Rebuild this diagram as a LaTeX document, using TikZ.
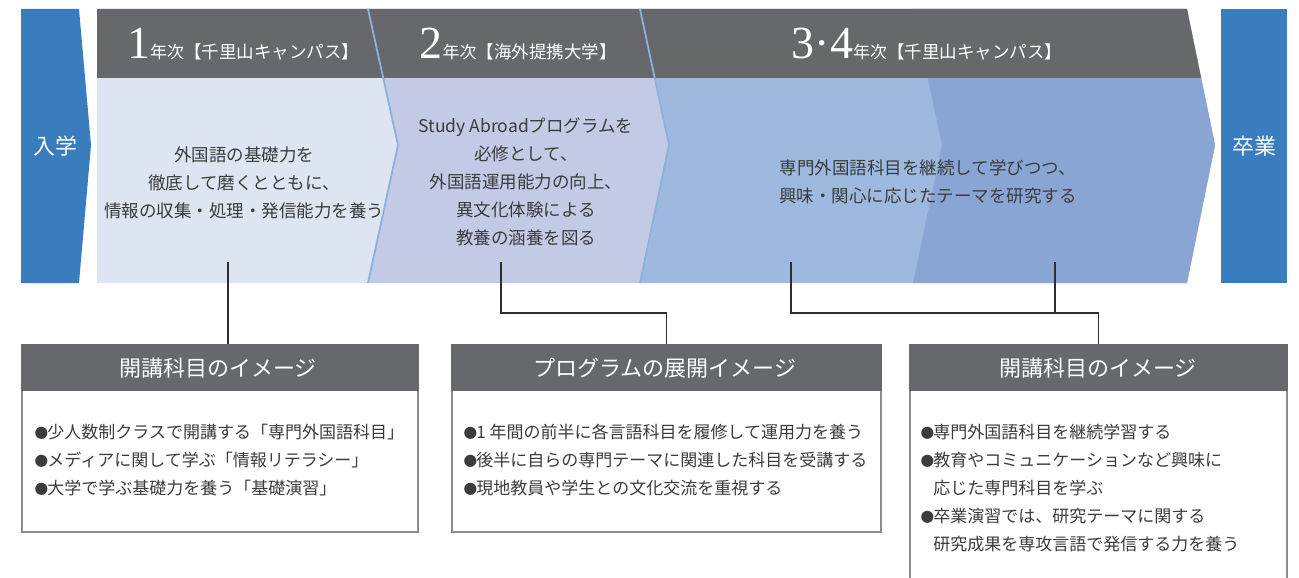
\documentclass[tikz,border=0pt]{standalone}
\usepackage{fontspec}
\usepackage{graphicx}
\setmainfont{Noto Sans CJK JP}
\newfontfamily\numfont{Liberation Serif}
\definecolor{endblue}{HTML}{3A7DBF}
\definecolor{hdrgray}{HTML}{67686C}
\definecolor{sone}{HTML}{DCE5F1}
\definecolor{stwo}{HTML}{C2CAE6}
\definecolor{sthree}{HTML}{9DB9E0}
\definecolor{sfour}{HTML}{88A5D4}
\definecolor{bline}{HTML}{8DB0DC}
\definecolor{txtgray}{HTML}{3C3C3C}
\definecolor{framegray}{HTML}{8C8C8C}
\definecolor{linegray}{HTML}{2E2E2E}
\newcommand{\bul}{\makebox[0.72em][c]{\scalebox{0.8}{●}}}
\newcommand{\hdrnum}[1]{{\numfont\fontsize{46}{46}\selectfont #1}}
\newcommand{\nenji}{{\fontsize{17}{17}\selectfont 年次}}
\tikzset{
  stagetxt/.style={align=center, text=txtgray, inner sep=0pt, font=\fontsize{17.5}{28}\selectfont},
  hdrtxt/.style={text=white, inner sep=0pt, anchor=base, font=\fontsize{17.5}{17.5}\selectfont},
  endtxt/.style={text=white, inner sep=0pt, font=\fontsize{22}{22}\selectfont},
  boxframe/.style={draw=framegray, line width=1.5pt, fill=white, rectangle, inner sep=0pt, anchor=north west},
  boxtitle/.style={text=white, inner sep=0pt, font=\fontsize{22}{22}\selectfont},
  boxtxt/.style={align=left, text=txtgray, inner sep=0pt, anchor=west, font=\fontsize{17}{28}\selectfont},
  conn/.style={draw=linegray, line width=1.4pt},
  sepline/.style={draw=bline, line width=1.8pt},
}
\begin{document}
\begin{tikzpicture}[x=1pt,y=-1pt]
\useasboundingbox (0,0) rectangle (1299,578);
% entry / exit
\fill[endblue] (21,9) -- (79,9) -- (91,145) -- (79,283) -- (21,283) -- cycle;
\fill[endblue] (1221,9) rectangle (1287,283);
\node[endtxt] (entry) at (55,146) {入学};
\node[endtxt] (grad) at (1254,146) {卒業};
% stages
\fill[sone] (97,9) -- (368,9) -- (398,145) -- (368,283) -- (97,283) -- cycle;
\fill[stwo] (368,9) -- (640,9) -- (669,145) -- (640,283) -- (368,283) -- (398,145) -- cycle;
\fill[sthree] (640,9) -- (1187,9) -- (1215,145) -- (1187,283) -- (640,283) -- (669,145) -- cycle;
\fill[sfour] (913,9) -- (1187,9) -- (1215,145) -- (1187,283) -- (913,283) -- (942,145) -- cycle;
% header band
\fill[hdrgray] (97,9) -- (1187,9) -- (1201,78) -- (97,78) -- cycle;
\draw[sepline] (368,9) -- (398,145) -- (368,283);
\draw[sepline] (640,9) -- (669,145) -- (640,283);
% header texts
\node[hdrtxt] (h1) at (243,59) {\hdrnum{1}\nenji 【千里山キャンパス】};
\node[hdrtxt] (h2) at (518,59) {\hdrnum{2}\nenji 【海外提携大学】};
\node[hdrtxt] (h3) at (927,59) {\hdrnum{3·4}\nenji 【千里山キャンパス】};
% stage texts
\node[stagetxt] (t1) at (244,183) {外国語の基礎力を\\徹底して磨くとともに、\\情報の収集・処理・発信能力を養う};
\node[stagetxt] (t2) at (526,182) {Study Abroadプログラムを\\必修として、\\外国語運用能力の向上、\\異文化体験による\\教養の涵養を図る};
\node[stagetxt] (t3) at (928,182) {専門外国語科目を継続して学びつつ、\\興味・関心に応じたテーマを研究する};
% boxes
\node[boxframe, minimum width=396pt, minimum height=187pt] (b1) at (21,344) {};
\node[boxframe, minimum width=429pt, minimum height=187pt] (b2) at (451,344) {};
\node[boxframe, minimum width=377pt, minimum height=250pt] (b3) at (909,344) {};
\fill[hdrgray] (b1.north west) rectangle ([yshift=-47pt]b1.north east);
\fill[hdrgray] (b2.north west) rectangle ([yshift=-47pt]b2.north east);
\fill[hdrgray] (b3.north west) rectangle ([yshift=-47pt]b3.north east);
\node[boxtitle] (bt1) at (218,368) {開講科目のイメージ};
\node[boxtitle] (bt2) at (665,368) {プログラムの展開イメージ};
\node[boxtitle] (bt3) at (1098,368) {開講科目のイメージ};
\node[boxtxt] (bx1) at (35,460) {\bul 少人数制クラスで開講する「専門外国語科目」\\\bul メディアに関して学ぶ「情報リテラシー」\\\bul 大学で学ぶ基礎力を養う「基礎演習」};
\node[boxtxt] (bx2) at (464,460) {\bul 1 年間の前半に各言語科目を履修して運用力を養う\\\bul 後半に自らの専門テーマに関連した科目を受講する\\\bul 現地教員や学生との文化交流を重視する};
\node[boxtxt] (bx3) at (921,488) {\bul 専門外国語科目を継続学習する\\\bul 教育やコミュニケーションなど興味に\\\hspace*{0.72em}応じた専門科目を学ぶ\\\bul 卒業演習では、研究テーマに関する\\\hspace*{0.72em}研究成果を専攻言語で発信する力を養う};
% connectors
\coordinate (s1) at (228,262);
\coordinate (s2) at (501,262);
\coordinate (s3a) at (791,262);
\coordinate (s3b) at (1055,262);
\draw[conn] (s1) -- (s1 |- b1.north);
\draw[conn] (s2) |- ([yshift=31pt]b2.north) -- (b2.north);
\draw[conn] (s3a) |- ([yshift=31pt]b3.north) -- (b3.north);
\draw[conn] (s3b) -- ++(0,51);
\end{tikzpicture}
\end{document}
